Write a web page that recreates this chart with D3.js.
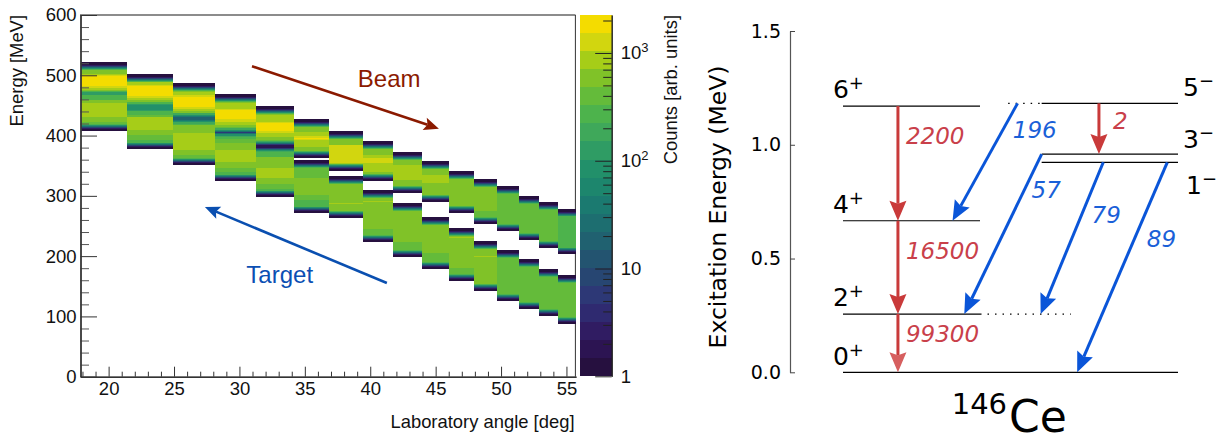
<!DOCTYPE html>
<html lang="en">

<head>
  <meta charset="UTF-8">
  <title>146Ce</title>
  <script src="https://d3js.org/d3.v7.min.js"></script>
  <style>
    body { margin: 0; background: #fff; }
    .root text { font-family: "Liberation Sans", sans-serif; fill: #111; }
    .scheme text { font-family: "DejaVu Sans", sans-serif; fill: #000; }
  </style>
</head>

<body>
  <svg width="1217" height="437"></svg>
</body>

<script>
  // angle bin edges [deg]
  const binEdges = [17.85, 21.44, 24.92, 28.17, 31.26, 34.17, 36.88, 39.42, 41.74, 43.95, 46.0, 47.93, 49.66, 51.35, 52.87, 54.33, 55.73];

  // rows per angle bin: [upper energy of row, counts]; count 0 closes the band
  const beamRows = [
    [[522, 590], [502, 870], [500, 1280], [499, 1880], [482, 1280], [479, 870], [476, 590], [474, 270], [472, 127], [467, 270], [459, 590], [454, 870], [431, 590], [423, 400], [414, 270], [408, 0]],
    [[502, 590], [489, 870], [484, 1280], [482, 1880], [466, 1280], [462, 870], [459, 590], [456, 270], [453, 127], [450, 86], [443, 127], [441, 270], [434, 400], [431, 870], [409, 590], [401, 400], [393, 270], [378, 0]],
    [[488, 590], [472, 870], [468, 1280], [464, 1880], [447, 1280], [444, 870], [440, 590], [437, 186], [434, 86], [432, 40], [430, 18], [426, 40], [424, 86], [423, 186], [419, 270], [418, 590], [404, 870], [376, 590], [368, 400], [361, 270], [351, 0]],
    [[469, 590], [454, 870], [444, 1280], [442, 1880], [427, 1280], [422, 870], [417, 590], [414, 400], [412, 186], [410, 86], [408, 27], [406, 5.7], [404, 27], [402, 86], [400, 186], [397, 270], [395, 400], [388, 590], [376, 870], [356, 590], [346, 400], [340, 270], [324, 0]],
    [[449, 590], [434, 870], [423, 1280], [421, 1880], [408, 1280], [404, 870], [398, 590], [393, 400], [391, 186], [389, 86], [388, 27], [386, 5.7], [384, 1.5], [379, 5.7], [378, 27], [376, 86], [374, 186], [372, 270], [364, 590], [346, 870], [330, 590], [320, 400], [311, 270], [298, 0]],
    [[427, 590], [406, 870], [399, 1280], [396, 1880], [394, 1280], [392, 870], [381, 590], [363, 0]],
    [[408, 590], [384, 1280], [354, 870], [342, 0]],
    [[391, 590], [368, 870], [363, 1280], [354, 870], [339, 590], [325, 0]],
    [[373, 590], [351, 870], [326, 590], [304, 0]],
    [[357, 590], [334, 870], [322, 590], [290, 0]],
    [[341, 590], [271, 0]],
    [[328, 590], [275, 400], [254, 0]],
    [[316, 400], [242, 0]],
    [[300, 400], [227, 0]],
    [[289, 400], [214, 0]],
    [[278, 270], [203, 0]]
  ];
  // the two bands only separate from the sixth bin on
  const targetRows = [
    [], [], [], [], [],
    [[360, 400], [330, 590], [301, 400], [293, 270], [271, 0]],
    [[333, 590], [288, 870], [286, 590], [263, 0]],
    [[309, 590], [291, 870], [289, 590], [245, 400], [223, 0]],
    [[288, 590], [224, 400], [199, 0]],
    [[265, 590], [205, 400], [178, 0]],
    [[246, 590], [232, 870], [230, 590], [180, 400], [159, 0]],
    [[225, 590], [200, 870], [198, 590], [142, 0]],
    [[211, 400], [126, 0]],
    [[195, 400], [112, 0]],
    [[179, 400], [100, 0]],
    [[168, 400], [87, 0]]
  ];
  // counts falling off at the edge of a band, outermost first
  const rimTop = [1.2, 1.2, 1.2, 2.6, 8.4, 27, 86, 270];
  const rimBottom = [1.2, 1.2, 2.6, 8.4, 27, 86, 270];
  const rimStep = 1.66;

  const countMax = 2250;
  const colorLevels = ["#26103f", "#2c1452", "#301c62", "#2f2a70", "#2d3876", "#274672", "#235470", "#206170", "#1d6e70", "#1b7a70",
    "#1d866d", "#22906a", "#2f9c64", "#3fa85a", "#4db34c", "#64bb3a", "#80c228", "#a6cd18", "#d2d60f", "#f4dc00"];

  const angleTicks = [20, 25, 30, 35, 40, 45, 50, 55];
  const energyTicks = [0, 100, 200, 300, 400, 500, 600];
  const countDecades = [1, 10, 100, 1000];
  const countMinor = [2, 3, 4, 5, 6, 7, 8, 9, 20, 30, 40, 50, 60, 70, 80, 90, 200, 300, 400, 500, 600, 700, 800, 900, 2000];

  // level scheme of 146Ce
  const levelSpin = ["0", "2", "4", "6", "1", "3", "5"];
  const levelParity = ["+", "+", "+", "+", "\u2212", "\u2212", "\u2212"];
  const levelEnergy = [0, 0.256, 0.666, 1.17, 0.923, 0.959, 1.182];
  const levelFrom = [0, 0, 0, 0, 59.3, 59.3, 59.3];
  const levelTo = [100, 40.9, 40.9, 40.9, 100, 100, 100];
  const levelLabelX = [-3, -3, -3, -3, 102.4, 101.5, 101.5];
  const levelLabelE = [0.032, 0.291, 0.701, 1.204, 0.784, 0.984, 1.214];
  // dotted extensions: 2+ to the right, 5- to the left
  const dottedEnergy = [0.256, 1.182];
  const dottedFrom = [40.9, 49.3];
  const dottedTo = [68, 59.3];

  const redX = [16.4, 16.4, 16.4, 76.4];
  const redFrom = [1.17, 0.666, 0.256, 1.182];
  const redTo = [0.666, 0.256, 0, 0.959];
  const redLabel = ["2200", "16500", "99300", "2"];
  const redLabelX = [18.8, 18.8, 18.8, 80.6];
  const redLabelE = [1.003, 0.496, 0.132, 1.068];

  const blueFromX = [52.1, 59.3, 77.7, 96.8];
  const blueToX = [32.7, 36.2, 59, 69.9];
  const blueFrom = [1.182, 0.959, 0.923, 0.923];
  const blueTo = [0.666, 0.256, 0.256, 0];
  const blueLabel = ["196", "57", "79", "89"];
  const blueLabelX = [50.7, 56.3, 74.2, 90.7];
  const blueLabelE = [1.031, 0.766, 0.656, 0.549];

  const svg = d3.select("svg");

  // arrow = shaft + notched head, both from projected pixel points
  function arrow(g, x0, y0, x1, y1, color, w, len, half, headColor) {
    const a = Math.atan2(y1 - y0, x1 - x0);
    const c = Math.cos(a), s = Math.sin(a);
    const nx = x1 - c * (len - 3), ny = y1 - s * (len - 3);
    g.append("line").attr("x1", x0).attr("y1", y0).attr("x2", nx).attr("y2", ny)
      .attr("stroke", color).attr("stroke-width", w);
    const bx = x1 - c * len, by = y1 - s * len;
    g.append("polygon")
      .attr("points", [[x1, y1], [bx - s * half, by + c * half], [nx, ny], [bx + s * half, by - c * half]].join(" "))
      .attr("fill", headColor || color);
  }

  /**
   * left: angle vs energy histogram
   */
  const left = svg.append("g").attr("class", "root");
  const xScale = d3.scaleLinear().domain([17.85, 55.73]).range([80.5, 576]);
  const yScale = d3.scaleLinear().domain([0, 600]).range([376.7, 15]);

  // frame goes under the histogram
  left.append("line").attr("x1", 80).attr("x2", 575.5).attr("y1", 15).attr("y2", 15)
    .attr("stroke", "#666").attr("stroke-width", 1.5);
  left.append("line").attr("x1", 575.4).attr("x2", 575.4).attr("y1", 15).attr("y2", 376.7)
    .attr("stroke", "#333").attr("stroke-width", 1);

  const colorScale = d3.scaleQuantize()
    .domain([0, Math.log10(countMax)])
    .range(colorLevels);

  function bandCells(rows, bin) {
    if (!rows.length) return [];
    const cells = [];
    d3.pairs(rows).forEach(([a, b]) => cells.push({ bin, e0: a[0], e1: b[0], c: a[1] }));
    const top = rows[0][0], bottom = rows[rows.length - 1][0];
    rimTop.forEach((c, i) => cells.push({ bin, e0: top - i * rimStep, e1: top - (i + 1) * rimStep, c }));
    rimBottom.forEach((c, i) => cells.push({ bin, e0: bottom + (i + 1) * rimStep, e1: bottom + i * rimStep, c }));
    return cells;
  }
  const cells = beamRows.flatMap((rows, i) => bandCells(rows, i))
    .concat(targetRows.flatMap((rows, i) => bandCells(rows, i)));

  left.append("g")
    .attr("shape-rendering", "crispEdges")
    .selectAll("rect")
    .data(cells)
    .enter()
    .append("rect")
    .attr("x", d => xScale(binEdges[d.bin]))
    .attr("width", d => xScale(binEdges[d.bin + 1]) - xScale(binEdges[d.bin]))
    .attr("y", d => yScale(d.e0))
    .attr("height", d => yScale(d.e1) - yScale(d.e0))
    .attr("fill", d => colorScale(Math.log10(d.c)));

  function styleAxis(g, color, w) {
    g.selectAll("line").attr("stroke", color).attr("stroke-width", w);
    g.selectAll("path").attr("stroke", color).attr("stroke-width", w);
    g.selectAll("text").attr("font-size", 18.5).attr("font-family", "Liberation Sans").attr("fill", "#111");
  }

  // y axis, ticks point into the plot
  left.append("g").attr("transform", "translate(80.5,0)")
    .call(d3.axisLeft(yScale).tickValues(d3.range(0, 601, 20).filter(d => d % 100)).tickSize(-8.5).tickSizeOuter(0).tickFormat(""))
    .call(g => styleAxis(g, "#555", 1));
  left.append("g").attr("transform", "translate(80.5,0)")
    .call(d3.axisLeft(yScale).tickValues(energyTicks).tickSize(-16.5).tickSizeOuter(0).tickPadding(4))
    .call(g => styleAxis(g, "#333", 1))
    .call(g => g.select("path").attr("stroke-width", 1.6));

  // x axis
  left.append("g").attr("transform", "translate(0,376.7)")
    .call(d3.axisBottom(xScale).tickValues(d3.range(18, 56).filter(d => d % 5)).tickSize(-5).tickSizeOuter(0).tickFormat(""))
    .call(g => styleAxis(g, "#333", 1));
  left.append("g").attr("transform", "translate(0,376.7)")
    .call(d3.axisBottom(xScale).tickValues(angleTicks).tickSize(-10).tickSizeOuter(0).tickPadding(5))
    .call(g => styleAxis(g, "#333", 1))
    .call(g => g.select("path").attr("stroke-width", 1.6));

  left.append("text")
    .attr("x", 574.5).attr("y", 428)
    .attr("text-anchor", "end").attr("font-size", 18.4)
    .text("Laboratory angle [deg]");
  left.append("text")
    .attr("transform", "translate(23,15) rotate(-90)")
    .attr("text-anchor", "end").attr("font-size", 18.4)
    .text("Energy [MeV]");

  // colour bar
  const barScale = d3.scaleLog().domain([1, countMax]).range([376.3, 15]);
  const barLeft = 580, barRight = 611.7;
  const levelWidth = Math.log10(countMax) / colorLevels.length;
  left.append("g")
    .attr("shape-rendering", "crispEdges")
    .selectAll("rect")
    .data(colorLevels)
    .enter()
    .append("rect")
    .attr("x", barLeft)
    .attr("width", barRight - barLeft)
    .attr("y", (d, i) => barScale(Math.pow(10, (i + 1) * levelWidth)))
    .attr("height", (d, i) => barScale(Math.pow(10, i * levelWidth)) - barScale(Math.pow(10, (i + 1) * levelWidth)))
    .attr("fill", d => d);

  left.append("g").attr("transform", `translate(${barRight},0)`)
    .call(d3.axisRight(barScale).tickValues(countMinor).tickSize(-8.5).tickSizeOuter(0).tickFormat(""))
    .call(g => styleAxis(g, "#222", 1));
  left.append("g").attr("transform", `translate(${barRight},0)`)
    .call(d3.axisRight(barScale).tickValues(countDecades).tickSize(-16.5).tickSizeOuter(0).tickPadding(9).tickFormat(d => d < 100 ? d : "10"))
    .call(g => styleAxis(g, "#222", 1))
    .call(g => g.selectAll(".tick text").filter(d => d >= 100)
      .append("tspan").attr("dy", "-0.55em").attr("font-size", 13).text(d => Math.log10(d)));

  left.append("text")
    .attr("transform", "translate(677,15) rotate(-90)")
    .attr("text-anchor", "end").attr("font-size", 18.4)
    .text("Counts [arb. units]");

  // Beam / Target annotations, given in data coordinates
  arrow(left.append("g"), xScale(30.96), yScale(515), xScale(45.25), yScale(411.5), "#8b1a00", 2.6, 15, 6.5);
  arrow(left.append("g"), xScale(41.27), yScale(155.4), xScale(27.36), yScale(281.5), "#0a4fb0", 2.6, 15, 6.5);
  left.append("text").attr("x", xScale(39.05)).attr("y", yScale(480))
    .attr("font-size", 24).style("fill", "#8b1a00").text("Beam");
  left.append("text").attr("x", xScale(30.53)).attr("y", yScale(156))
    .attr("font-size", 24).style("fill", "#0b4fb3").text("Target");

  /**
   * right: level scheme
   */
  const right = svg.append("g").attr("class", "scheme");
  const exScale = d3.scaleLinear().domain([0, 1.5]).range([372.3, 31]);
  const schemeX = d3.scaleLinear().domain([0, 100]).range([843, 1178]);

  right.append("g").attr("transform", "translate(790,0)")
    .call(d3.axisLeft(exScale).tickValues([0, 0.5, 1, 1.5]).tickSize(-5).tickSizeOuter(0).tickPadding(9).tickFormat(d3.format(".1f")))
    .call(g => {
      g.selectAll("line").attr("stroke", "#444");
      g.select("path").attr("stroke", "#555").attr("stroke-width", 1.2);
      g.selectAll("text").attr("font-size", 19).attr("font-family", "DejaVu Sans").attr("fill", "#000");
    });

  right.append("text")
    .attr("transform", "translate(726,207) rotate(-90)")
    .attr("text-anchor", "middle").attr("font-size", 23.5)
    .text("Excitation Energy (MeV)");

  right.append("g")
    .selectAll("line")
    .data(levelEnergy)
    .enter()
    .append("line")
    .attr("x1", (d, i) => schemeX(levelFrom[i]))
    .attr("x2", (d, i) => schemeX(levelTo[i]))
    .attr("y1", d => exScale(d))
    .attr("y2", d => exScale(d))
    .attr("stroke", "#000")
    .attr("stroke-width", 1.2);

  right.append("g")
    .selectAll("line")
    .data(dottedEnergy)
    .enter()
    .append("line")
    .attr("x1", (d, i) => schemeX(dottedFrom[i]))
    .attr("x2", (d, i) => schemeX(dottedTo[i]))
    .attr("y1", d => exScale(d))
    .attr("y2", d => exScale(d))
    .attr("stroke", "#000")
    .attr("stroke-width", 1.2)
    .attr("stroke-dasharray", "1.5 6");

  const levelText = right.append("g")
    .selectAll("text")
    .data(levelSpin)
    .enter()
    .append("text")
    .attr("x", (d, i) => schemeX(levelLabelX[i]))
    .attr("y", (d, i) => exScale(levelLabelE[i]))
    .attr("font-size", 25)
    .text(d => d);
  levelText.append("tspan")
    .attr("dy", -9).attr("font-size", 18)
    .text((d, i) => levelParity[i]);

  // red: in-band transitions
  const redArrows = right.append("g");
  redX.forEach((x, i) => {
    arrow(redArrows, schemeX(x), exScale(redFrom[i]), schemeX(x), exScale(redTo[i]), "#c93a3a", 3, 20, 8.5, i === 2 ? "#d65f5f" : "#c93a3a");
  });
  // blue: octupole band decays
  const blueArrows = right.append("g");
  blueFrom.forEach((e, i) => {
    arrow(blueArrows, schemeX(blueFromX[i]), exScale(e), schemeX(blueToX[i]), exScale(blueTo[i]), "#0a55d8", 3, 20, 8.5);
  });

  right.append("g")
    .selectAll("text")
    .data(redLabel)
    .enter()
    .append("text")
    .attr("x", (d, i) => schemeX(redLabelX[i]))
    .attr("y", (d, i) => exScale(redLabelE[i]))
    .attr("font-size", 23)
    .attr("font-style", "italic")
    .style("fill", "#c9404a")
    .text(d => d);
  right.append("g")
    .selectAll("text")
    .data(blueLabel)
    .enter()
    .append("text")
    .attr("x", (d, i) => schemeX(blueLabelX[i]))
    .attr("y", (d, i) => exScale(blueLabelE[i]))
    .attr("font-size", 23)
    .attr("font-style", "italic")
    .style("fill", "#1a60d8")
    .text(d => d);

  const nucleus = right.append("text").attr("x", 951.7).attr("y", 431.7).attr("font-size", 44);
  nucleus.append("tspan").attr("dy", -17.4).attr("font-size", 29).text("146");
  nucleus.append("tspan").attr("dy", 17.4).attr("dx", 2).text("Ce");
</script>

</html>
